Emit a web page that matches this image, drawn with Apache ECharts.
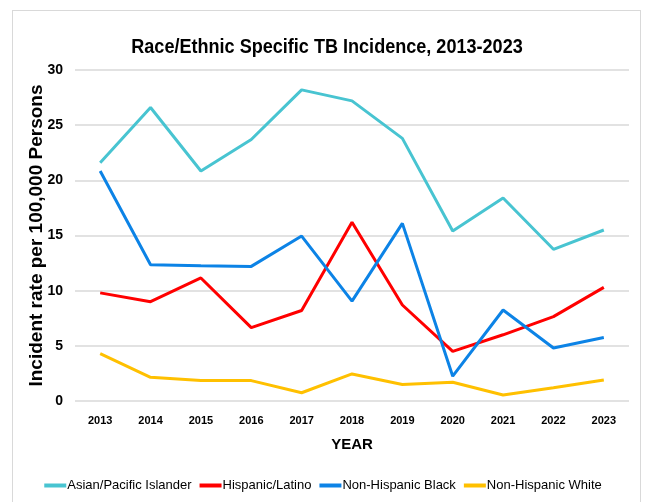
<!DOCTYPE html>
<html><head><meta charset="utf-8">
<script src="https://cdn.jsdelivr.net/npm/echarts@6/dist/echarts.min.js"></script>
<style>
html,body{margin:0;padding:0;background:#fff;}
#frame{position:absolute;left:12px;top:10px;width:629px;height:500px;border:1px solid #d9d9d9;box-sizing:border-box;}
#c{position:absolute;left:0;top:0;width:646px;height:502px;}
</style></head>
<body><div id="frame"></div><div id="c"></div>
<script>
const years = ['2013','2014','2015','2016','2017','2018','2019','2020','2021','2022','2023'];
const asianPI = [21.6, 26.6, 20.85, 23.7, 28.2, 27.2, 23.8, 15.4, 18.4, 13.75, 15.5];
const hispanic = [9.8, 9.0, 11.15, 6.65, 8.2, 16.2, 8.7, 4.5, 6.0, 7.65, 10.3];
const nhBlack = [20.85, 12.35, 12.25, 12.2, 14.95, 9.05, 16.1, 2.25, 8.25, 4.8, 5.75];
const nhWhite = [4.3, 2.15, 1.85, 1.85, 0.75, 2.45, 1.5, 1.7, 0.55, 1.2, 1.9];
const yTicks = [0, 5, 10, 15, 20, 25, 30];
const titleText = 'Race/Ethnic Specific TB Incidence, 2013-2023';

const sans = '"Liberation Sans", Arial, sans-serif';
const chart = echarts.init(document.getElementById('c'), null, {renderer:'canvas'});
function ser(name, data, color){
  return {name, type:'line', data, symbol:'none', smooth:false,
    lineStyle:{color, width:3}, itemStyle:{color}};
}
chart.setOption({
  animation:false,
  graphic:[{type:'text', x:327, y:47, scaleX:0.86, scaleY:1,
    style:{text:titleText, font:'bold 21px ' + sans, fill:'#000', align:'center', verticalAlign:'middle'}}],
  grid:{left:75, right:17, top:70, bottom:101, containLabel:false},
  xAxis:{type:'category', data:years, boundaryGap:true,
    name:'YEAR', nameLocation:'middle', nameGap:36, nameMoveOverlap:false,
    nameTextStyle:{fontFamily:sans, fontSize:15, fontWeight:'bold', color:'#000'},
    axisLine:{show:false}, axisTick:{show:false},
    axisLabel:{fontFamily:sans, fontSize:11, fontWeight:'bold', color:'#000', margin:14}},
  yAxis:{type:'value', min:yTicks[0], max:yTicks[yTicks.length-1], interval:5,
    name:'Incident rate per 100,000 Persons', nameLocation:'middle', nameGap:29, nameMoveOverlap:false,
    nameTextStyle:{fontFamily:sans, fontSize:19, fontWeight:'bold', color:'#000'},
    axisLine:{show:false}, axisTick:{show:false},
    axisLabel:{fontFamily:sans, fontSize:14, fontWeight:'bold', color:'#000', margin:12},
    splitLine:{lineStyle:{color:'#d9d9d9', width:1.5}}},
  legend:{bottom:5, left:'center', itemWidth:22, itemHeight:4, itemGap:8, icon:'rect',
    textStyle:{fontFamily:sans, fontSize:13, color:'#000', padding:[0,0,0,-4]}},
  series:[
    ser('Asian/Pacific Islander', asianPI, '#48c4d1'),
    ser('Hispanic/Latino', hispanic, '#ff0000'),
    ser('Non-Hispanic Black', nhBlack, '#0c83e6'),
    ser('Non-Hispanic White', nhWhite, '#ffc000')
  ]
});
</script></body></html>
